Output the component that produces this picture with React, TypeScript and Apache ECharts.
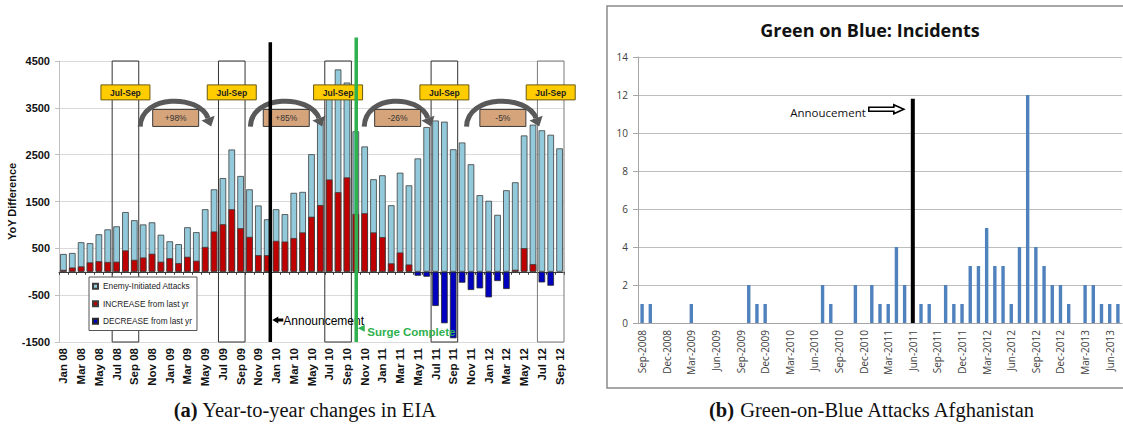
import { useEffect, useRef } from 'react';
import * as echarts from 'echarts';

// ---------- shared ----------
const MONTH_NAMES = ['Jan', 'Feb', 'Mar', 'Apr', 'May', 'Jun', 'Jul', 'Aug', 'Sep', 'Oct', 'Nov', 'Dec'];
const SANS = '"Liberation Sans", Arial, sans-serif';
const CAL = '"Open Sans", "Noto Sans", sans-serif';
const SERIF = '"Liberation Serif", "DejaVu Serif", serif';

// ---------- (a) Year-to-year changes in EIA : Jan 08 .. Sep 12 ----------
const MONTHS_A: string[] = [];
for (let y = 8; y <= 12; y++) {
  for (let m = 0; m < 12; m++) {
    if (y === 12 && m > 8) break;
    MONTHS_A.push(`${MONTH_NAMES[m]} ${String(y).padStart(2, '0')}`);
  }
}

const EIA = [
  380, 400, 630, 610, 800, 905, 970, 1275, 1100, 1010, 1055, 790,
  650, 590, 950, 845, 1335, 1760, 2000, 2610, 2045, 1760, 1415, 1120,
  1335, 1230, 1685, 1705, 2510, 3195, 3850, 4320, 4040, 3000, 2675, 1975,
  2060, 1420, 2115, 1845, 2420, 3090, 3230, 3205, 2615, 2760, 2295, 1635,
  1515, 1215, 1740, 1910, 2910, 3140, 3020, 2925, 2635,
];
const INCREASE = [
  40, 90, 115, 200, 225, 210, 215, 455, 255, 305, 385, 215,
  290, 185, 320, 235, 530, 860, 1015, 1335, 930, 745, 355, 355,
  660, 645, 720, 840, 1175, 1425, 1970, 1700, 2015, 1235, 1250, 840,
  740, 180, 411, 155, 0, 0, 0, 0, 0, 0, 0, 0,
  0, 0, 0, 43, 505, 164, 0, 0, 0,
];
const DECREASE = [
  0, 0, 0, 0, 0, 0, 0, 0, 0, 0, 0, 0,
  0, 0, 0, 0, 0, 0, 0, 0, 0, 0, 0, 0,
  0, 0, 0, 0, 0, 0, 0, 0, 0, 0, 0, 0,
  0, 0, 0, 0, -85, -106, -731, -1100, -1420, -234, -390, -355,
  -547, -199, -369, 0, 0, 0, -228, -298, 0,
];
const Y_MIN_A = -1500;
const Y_MAX_A = 4500;
const Y_STEP_A = 1000;

const JULSEP_START = [6, 18, 30, 42, 54]; // month index of each July
const JULSEP_LABEL_Y = 3830;
const ARC_FROM = [8.66, 21.1, 33.95, 45.5];
const ARC_TO = [16.68, 29.2, 41.5, 53.7];
const ARC_LABELS = ['+98%', '+85%', '-26%', '-5%'];
const ARC_BASE = 3100;
const ARC_PEAK = 3640;
const ARC_BOX_Y = 3284;

const EVENT_AT = [23.35, 33.05];
const EVENT_TOP = [4900, 5000];
const EVENT_MARK_Y = [-1030, -1208];
const EVENT_LABELS = ['Announcement', 'Surge Complete'];
const EVENT_COLORS = ['#000000', '#2EB14E'];

// ---------- (b) Green on Blue: Incidents : Sep-2008 .. Jul-2013 ----------
const MONTHS_B: string[] = [];
for (let i = 0; i < 59; i++) {
  const t = 2008 * 12 + 8 + i;
  MONTHS_B.push(`${MONTH_NAMES[t % 12]}-${Math.floor(t / 12)}`);
}
const INCIDENTS = [
  1, 1, 0, 0, 0, 0, 1, 0, 0, 0, 0, 0,
  0, 2, 1, 1, 0, 0, 0, 0, 0, 0, 2, 1,
  0, 0, 2, 0, 2, 1, 1, 4, 2, 0, 1, 1,
  0, 2, 1, 1, 3, 3, 5, 3, 3, 1, 4, 12,
  4, 3, 2, 2, 1, 0, 2, 2, 1, 1, 1,
];
const ANNOUNCE_B_AT = 33;
const ANNOUNCE_B_TOP = 11.8;
const ANNOUNCE_B_ARROW_Y = 11.25;
const ANNOUNCE_B_LABEL = 'Annoucement';

const nz = (v: number) => (v === 0 ? null : v);

function buildOption(): any {
  const barCommon = {
    type: 'bar',
    xAxisIndex: 0,
    yAxisIndex: 0,
    barWidth: 6.6,
    barGap: '-100%',
    z: 2,
  };

  return {
    animation: false,
    backgroundColor: '#ffffff',
    textStyle: { fontFamily: SANS },
    grid: [
      { left: 59, top: 61, width: 505, height: 281 },
      { left: 638, top: 57, width: 484, height: 266 },
    ],
    xAxis: [
      {
        type: 'category', gridIndex: 0, data: MONTHS_A, position: 'bottom',
        axisLine: { show: false, onZero: false }, axisTick: { show: false },
        axisLabel: {
          interval: 1, rotate: 90, margin: 6, fontFamily: SANS, fontWeight: 'bold',
          fontSize: 11.5, color: '#111',
        },
        splitLine: { show: false },
      },
      { type: 'value', gridIndex: 0, min: -0.5, max: MONTHS_A.length - 0.5, show: false },
      {
        type: 'category', gridIndex: 0, data: MONTHS_A, position: 'bottom',
        axisLine: { show: true, onZero: true, onZeroAxisIndex: 0, lineStyle: { color: '#3a3a3a', width: 1 } },
        axisTick: { show: true, interval: 0, length: 3, lineStyle: { color: '#3a3a3a' } },
        axisLabel: { show: false }, splitLine: { show: false },
      },
      {
        type: 'category', gridIndex: 1, data: MONTHS_B, position: 'bottom',
        axisLine: { lineStyle: { color: '#a6a6a6', width: 1 } },
        axisTick: { interval: 2, length: 5, lineStyle: { color: '#a6a6a6' } },
        axisLabel: { interval: 2, rotate: 90, margin: 7, fontFamily: CAL, fontSize: 10, color: '#404040' },
      },
      { type: 'value', gridIndex: 1, min: -0.5, max: MONTHS_B.length - 0.5, show: false },
    ],
    yAxis: [
      { type: 'value', gridIndex: 0, min: Y_MIN_A, max: Y_MAX_A, show: false, position: 'left', axisLine: { onZero: false } },
      {
        type: 'value', gridIndex: 0, position: 'left', min: 0, max: Y_MAX_A - Y_MIN_A, interval: Y_STEP_A,
        name: 'YoY Difference', nameLocation: 'middle', nameGap: 41, nameRotate: 90,
        nameTextStyle: { fontFamily: SANS, fontWeight: 'bold', fontSize: 11, color: '#111' },
        axisLine: { show: true, onZero: false, lineStyle: { color: '#bfbfbf' } },
        axisTick: { show: true, length: 4, lineStyle: { color: '#bfbfbf' } },
        axisLabel: {
          margin: 9, fontFamily: SANS, fontWeight: 'bold', fontSize: 11, color: '#111',
          formatter: (v: number) => String(v + Y_MIN_A),
        },
        splitLine: { lineStyle: { color: '#dadada', width: 1 } },
      },
      {
        type: 'value', gridIndex: 1, min: 0, max: 14, interval: 2, position: 'left',
        axisLine: { show: true, onZero: false, lineStyle: { color: '#a6a6a6' } },
        axisTick: { show: true, length: 5, lineStyle: { color: '#a6a6a6' } },
        axisLabel: { margin: 10, fontFamily: CAL, fontSize: 10, color: '#404040' },
        splitLine: { lineStyle: { color: '#bdbdbd', width: 1.2 } },
      },
    ],
    legend: {
      data: ['Enemy-Initiated Attacks', 'INCREASE from last yr', 'DECREASE from last yr'],
      orient: 'vertical', left: 89, top: 277, padding: [4, 5, 4, 3],
      itemGap: 7, itemWidth: 5, itemHeight: 5, icon: 'rect',
      backgroundColor: '#ffffff', borderColor: '#555555', borderWidth: 1, borderRadius: 0,
      textStyle: { fontFamily: SANS, fontSize: 8.3, color: '#222', lineHeight: 10.5 },
      selectedMode: false, z: 6,
    },
    graphic: [
      {
        type: 'rect', silent: true, z: -1,
        shape: { x: 607, y: 6, width: 530, height: 382 },
        style: { fill: 'none', stroke: '#8a8a8a', lineWidth: 1.5 },
      },
      {
        type: 'text', x: 870, y: 30,
        style: {
          text: 'Green on Blue: Incidents', font: `bold 18px ${CAL}`, fill: '#111',
          align: 'center', verticalAlign: 'middle', textAlign: 'center', textVerticalAlign: 'middle',
        },
      },
      {
        type: 'text', x: 305, y: 410,
        style: {
          text: '{b|(a)} Year-to-year changes in EIA',
          fontFamily: SERIF, fontSize: 20.5, fill: '#111',
          align: 'center', verticalAlign: 'middle', textAlign: 'center', textVerticalAlign: 'middle',
          rich: { b: { fontFamily: SERIF, fontSize: 20.5, fontWeight: 'bold', fill: '#111' } },
        },
      },
      {
        type: 'text', x: 872, y: 410,
        style: {
          text: '{b|(b)} Green-on-Blue Attacks Afghanistan',
          fontFamily: SERIF, fontSize: 20.5, fill: '#111',
          align: 'center', verticalAlign: 'middle', textAlign: 'center', textVerticalAlign: 'middle',
          rich: { b: { fontFamily: SERIF, fontSize: 20.5, fontWeight: 'bold', fill: '#111' } },
        },
      },
    ],
    series: [
      // Jul-Sep frames (behind bars)
      {
        type: 'custom', xAxisIndex: 1, yAxisIndex: 0, z: 1, silent: true,
        data: JULSEP_START.map((s) => [s, 0]),
        renderItem: (params: any, api: any) => {
          const s = api.value(0);
          const tl = api.coord([s - 0.5, Y_MAX_A]);
          const br = api.coord([s + 2.5, Y_MIN_A]);
          return {
            type: 'rect',
            shape: { x: tl[0], y: tl[1], width: br[0] - tl[0], height: br[1] - tl[1] },
            style: { fill: 'none', stroke: params.dataIndex === 4 ? '#7a7a7a' : '#333333', lineWidth: 1 },
          };
        },
      },
      {
        ...barCommon, name: 'Enemy-Initiated Attacks', data: EIA,
        itemStyle: { color: '#93CADB', borderColor: '#3c3c3c', borderWidth: 0.8 },
      },
      {
        ...barCommon, name: 'INCREASE from last yr', data: INCREASE.map(nz),
        itemStyle: { color: '#C00000', borderColor: '#3c3c3c', borderWidth: 0.8 },
      },
      {
        ...barCommon, name: 'DECREASE from last yr', data: DECREASE.map(nz),
        itemStyle: { color: '#0000C0', borderColor: '#2a2a2a', borderWidth: 0.8 },
      },
      // Jul-Sep yellow tags
      {
        type: 'custom', xAxisIndex: 1, yAxisIndex: 0, z: 5, silent: true,
        data: JULSEP_START.map((s) => [s + 1, JULSEP_LABEL_Y]),
        renderItem: (params: any, api: any) => {
          const c = api.coord([api.value(0), api.value(1)]);
          return {
            type: 'group',
            children: [
              {
                type: 'rect', shape: { x: c[0] - 24.5, y: c[1] - 7.5, width: 49, height: 15 },
                style: { fill: '#FFCC00', stroke: '#6b5a10', lineWidth: 1 },
              },
              {
                type: 'text', x: c[0], y: c[1] + 0.5,
                style: {
                  text: 'Jul-Sep', font: `bold 8.5px ${SANS}`, fill: '#222',
                  align: 'center', verticalAlign: 'middle', textAlign: 'center', textVerticalAlign: 'middle',
                },
              },
            ],
          };
        },
      },
      // curved arrows with % change
      {
        type: 'custom', xAxisIndex: 1, yAxisIndex: 0, z: 5, silent: true,
        data: ARC_FROM.map((f, i) => [f, ARC_TO[i]]),
        renderItem: (params: any, api: any) => {
          const x0 = api.value(0);
          const x1 = api.value(1);
          const mid = (x0 + x1) / 2;
          const p0 = api.coord([x0, ARC_BASE]);
          const tip = api.coord([x1, ARC_BASE]);
          const pk = api.coord([mid, ARC_PEAK]);
          const dx = 0.35, dy = 0.94, nx = 0.94, ny = -0.35;
          const end = [tip[0] - 9 * dx, tip[1] - 9 * dy];
          const c = (pk[1] - 0.125 * (p0[1] + end[1])) / 0.75;
          const cp2x = end[0] - (end[1] - c) * 0.37;
          const box = api.coord([mid, ARC_BOX_Y]);
          return {
            type: 'group',
            children: [
              {
                type: 'bezierCurve',
                shape: { x1: p0[0], y1: p0[1], x2: end[0], y2: end[1], cpx1: p0[0] + 1, cpy1: c, cpx2: cp2x, cpy2: c },
                style: { stroke: '#595959', lineWidth: 5, fill: 'none' },
              },
              {
                type: 'polygon',
                shape: { points: [[tip[0], tip[1]], [end[0] - 7 * nx, end[1] - 7 * ny], [end[0] + 7 * nx, end[1] + 7 * ny]] },
                style: { fill: '#595959' },
              },
              {
                type: 'rect', shape: { x: box[0] - 23, y: box[1] - 8.5, width: 46, height: 17 },
                style: { fill: '#D6A47B', stroke: '#3a3a3a', lineWidth: 1 },
              },
              {
                type: 'text', x: box[0], y: box[1] + 0.5,
                style: {
                  text: ARC_LABELS[params.dataIndex], font: `8.5px ${SANS}`, fill: '#333',
                  align: 'center', verticalAlign: 'middle', textAlign: 'center', textVerticalAlign: 'middle',
                },
              },
            ],
          };
        },
      },
      // Announcement / Surge Complete lines
      {
        type: 'custom', xAxisIndex: 1, yAxisIndex: 0, z: 7, silent: true,
        data: EVENT_AT.map((x, i) => [x, EVENT_TOP[i]]),
        renderItem: (params: any, api: any) => {
          const i = params.dataIndex;
          const x = api.value(0);
          const top = api.coord([x, api.value(1)]);
          const bot = api.coord([x, Y_MIN_A]);
          const m = api.coord([x, EVENT_MARK_Y[i]]);
          const color = EVENT_COLORS[i];
          const children: any[] = [
            {
              type: 'line', shape: { x1: top[0], y1: top[1], x2: bot[0], y2: bot[1] },
              style: { stroke: color, lineWidth: 3.5 },
            },
          ];
          if (i === 0) {
            const t = m[0] + 2;
            children.push({
              type: 'polygon',
              shape: {
                points: [[t, m[1]], [t + 6, m[1] - 3.5], [t + 6, m[1] - 1.5], [t + 11, m[1] - 1.5],
                  [t + 11, m[1] + 1.5], [t + 6, m[1] + 1.5], [t + 6, m[1] + 3.5]],
              },
              style: { fill: '#000' },
            });
            children.push({
              type: 'text', x: m[0] + 13, y: m[1] + 1,
              style: {
                text: EVENT_LABELS[i], font: `12px ${SANS}`, fill: '#000',
                align: 'left', verticalAlign: 'middle', textAlign: 'left', textVerticalAlign: 'middle',
              },
            });
          } else {
            const t = m[0] + 1.5;
            children.push({
              type: 'polygon',
              shape: { points: [[t, m[1]], [t + 7, m[1] - 3.5], [t + 7, m[1] + 3.5]] },
              style: { fill: color },
            });
            children.push({
              type: 'text', x: m[0] + 11, y: m[1] + 4,
              style: {
                text: EVENT_LABELS[i], font: `bold 11.5px ${SANS}`, fill: color,
                align: 'left', verticalAlign: 'middle', textAlign: 'left', textVerticalAlign: 'middle',
              },
            });
          }
          return { type: 'group', children };
        },
      },
      // (b) incidents
      {
        type: 'bar', name: 'Incidents', xAxisIndex: 3, yAxisIndex: 2, data: INCIDENTS.map(nz),
        barWidth: 3.4, itemStyle: { color: '#4F81BD' },
      },
      {
        type: 'custom', xAxisIndex: 4, yAxisIndex: 2, z: 6, silent: true,
        data: [[ANNOUNCE_B_AT, ANNOUNCE_B_TOP]],
        renderItem: (params: any, api: any) => {
          const x = api.value(0);
          const top = api.coord([x, api.value(1)]);
          const bot = api.coord([x, 0]);
          const a = api.coord([x, ANNOUNCE_B_ARROW_Y]);
          const tip = a[0] - 9;
          const tail = a[0] - 44;
          const hb = tip - 10;
          const y = a[1];
          return {
            type: 'group',
            children: [
              {
                type: 'line', shape: { x1: top[0], y1: top[1], x2: bot[0], y2: bot[1] },
                style: { stroke: '#000', lineWidth: 4 },
              },
              {
                type: 'polygon',
                shape: {
                  points: [[tail, y - 2], [hb, y - 2], [hb, y - 4.5], [tip, y], [hb, y + 4.5], [hb, y + 2], [tail, y + 2]],
                },
                style: { fill: '#fff', stroke: '#000', lineWidth: 1.6 },
              },
              {
                type: 'text', x: tail - 3, y: y + 3.5,
                style: {
                  text: ANNOUNCE_B_LABEL, font: `11.5px ${CAL}`, fill: '#111',
                  align: 'right', verticalAlign: 'middle', textAlign: 'right', textVerticalAlign: 'middle',
                },
              },
            ],
          };
        },
      },
    ],
  };
}

export default function App() {
  const ref = useRef<HTMLDivElement>(null);
  useEffect(() => {
    if (!ref.current) return;
    const chart = echarts.init(ref.current, undefined, { renderer: 'svg' });
    chart.setOption(buildOption());
    return () => chart.dispose();
  }, []);
  return (
    <div
      ref={ref}
      style={{ position: 'fixed', left: 0, top: 0, width: 1123, height: 427, background: '#fff' }}
    />
  );
}
